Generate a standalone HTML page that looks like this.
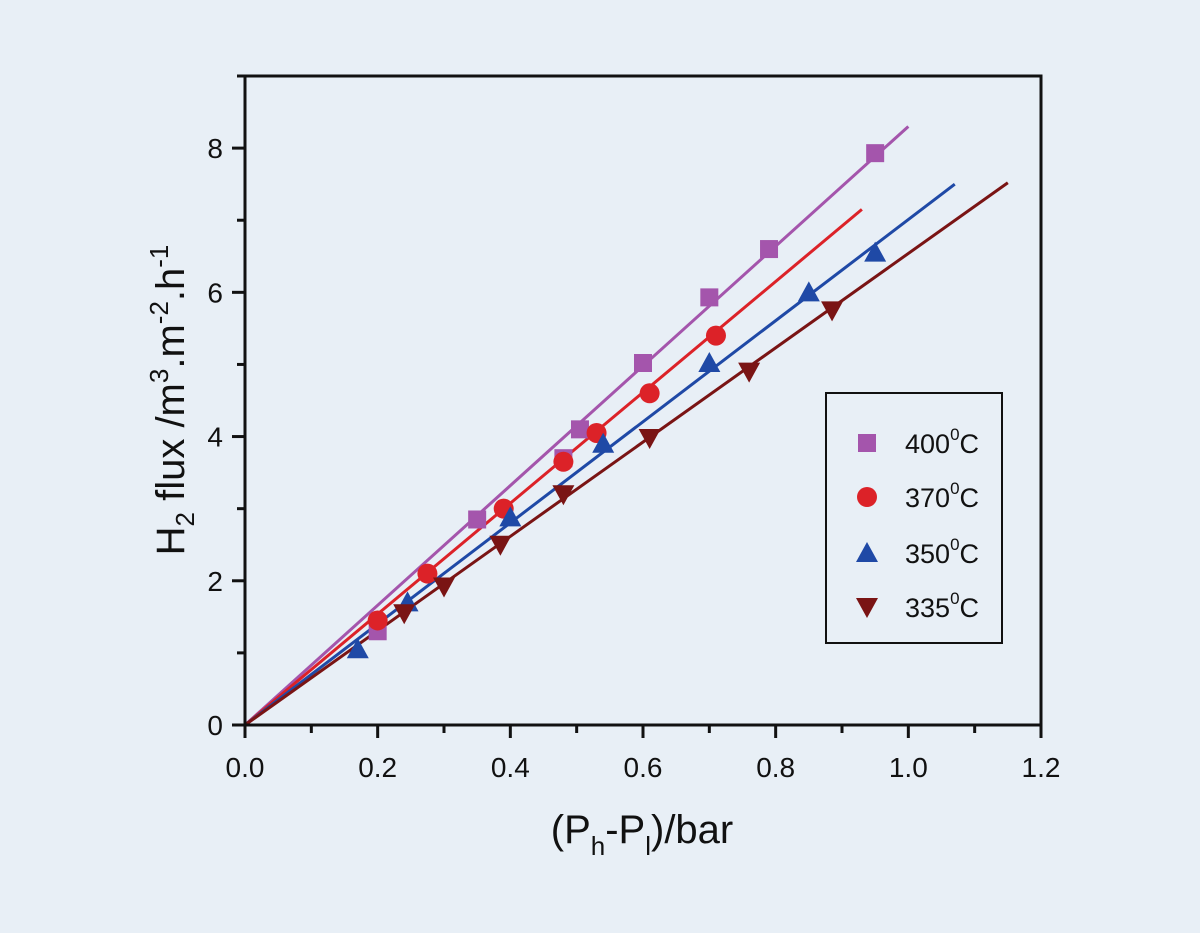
<!DOCTYPE html>
<html><head><meta charset="utf-8"><style>
html,body{margin:0;padding:0;background:#e8eff6;}
svg{display:block;font-family:"Liberation Sans",sans-serif;}
</style></head><body>
<svg id="chart" width="1200" height="933" viewBox="0 0 1200 933">
<rect width="1200" height="933" fill="#e8eff6"/>
<g id="plot"></g>
<text x="0" y="0" transform="translate(184,400) rotate(-90)" text-anchor="middle" font-size="40" fill="#111">H<tspan font-size="26" dy="10">2</tspan><tspan dy="-10"> flux /m</tspan><tspan font-size="26" dy="-16">3</tspan><tspan dy="16">.m</tspan><tspan font-size="26" dy="-16">-2</tspan><tspan dy="16">.h</tspan><tspan font-size="26" dy="-16">-1</tspan></text>
<text x="642" y="843" text-anchor="middle" font-size="40" fill="#111">(P<tspan font-size="26" dy="12">h</tspan><tspan dy="-12">-P</tspan><tspan font-size="26" dy="12">l</tspan><tspan dy="-12">)/bar</tspan></text>
</svg>
<script>
const xTicks=[0,0.2,0.4,0.6,0.8,1.0,1.2];
const xTickLabels=["0.0","0.2","0.4","0.6","0.8","1.0","1.2"];
const yTicks=[0,2,4,6,8];
const yTickLabels=["0","2","4","6","8"];
const seriesNames=["400°C","370°C","350°C","335°C"];
const x400=[0.2,0.35,0.48,0.505,0.6,0.7,0.79,0.95];
const y400=[1.3,2.85,3.7,4.1,5.02,5.93,6.6,7.93];
const x370=[0.2,0.275,0.39,0.48,0.53,0.61,0.71];
const y370=[1.45,2.1,3.0,3.65,4.05,4.6,5.4];
const x350=[0.17,0.245,0.40,0.54,0.70,0.85,0.95];
const y350=[1.05,1.7,2.88,3.9,5.02,6.0,6.55];
const x335=[0.24,0.30,0.385,0.48,0.61,0.76,0.885];
const y335=[1.55,1.92,2.5,3.2,3.98,4.9,5.75];
const fitEndX=[1.0,0.93,1.07,1.15];
const fitEndY=[8.3,7.15,7.5,7.52];

const NS="http://www.w3.org/2000/svg";
const L=245,R=1041,T=76,B=725,XMAX=1.2,YMAX=9;
const sx=v=>L+v/XMAX*(R-L);
const sy=v=>B-v/YMAX*(B-T);
const g=document.getElementById('plot');
function mk(tag,attrs,parent){const e=document.createElementNS(NS,tag);for(const k in attrs)e.setAttribute(k,attrs[k]);(parent||g).appendChild(e);return e;}

const colors=["#a455ac","#dc2228","#1f49a6","#7a1414"];
const shapes=["square","circle","up","down"];
const xs=[x400,x370,x350,x335], ys=[y400,y370,y350,y335];

function marker(shape,cx,cy,color,parent){
  let e;
  if(shape==="square") e=mk('rect',{x:cx-9,y:cy-9,width:18,height:18,fill:color},parent);
  else if(shape==="circle") e=mk('circle',{cx:cx,cy:cy,r:10,fill:color},parent);
  else if(shape==="up") e=mk('polygon',{points:`${cx},${cy-11} ${cx-11},${cy+9} ${cx+11},${cy+9}`,fill:color},parent);
  else e=mk('polygon',{points:`${cx},${cy+11} ${cx-11},${cy-9} ${cx+11},${cy-9}`,fill:color},parent);
  return e;
}

// fit lines
for(let s=0;s<4;s++){
  const ln=mk('line',{x1:sx(0),y1:sy(0),x2:sx(fitEndX[s]),y2:sy(fitEndY[s]),stroke:colors[s],'stroke-width':3});
  
  
}
// points
for(let s=0;s<4;s++){
  for(let i=0;i<xs[s].length;i++){
    const m=marker(shapes[s],sx(xs[s][i]),sy(ys[s][i]),colors[s]);
    
    
  }
}
// frame
const fr=mk('rect',{x:L,y:T,width:R-L,height:B-T,fill:'none',stroke:'#111','stroke-width':3});


// x ticks
for(let i=0;i<xTicks.length;i++){
  const t=mk('line',{x1:sx(xTicks[i]),y1:B,x2:sx(xTicks[i]),y2:B+13,stroke:'#111','stroke-width':3});
  
  
  const lb=mk('text',{x:sx(xTicks[i]),y:B+52,'text-anchor':'middle','font-size':28,fill:'#111'});
  lb.textContent=xTickLabels[i];
  
  
  if(i<xTicks.length-1){
    const mx=(xTicks[i]+xTicks[i+1])/2;
    const mt=mk('line',{x1:sx(mx),y1:B,x2:sx(mx),y2:B+8,stroke:'#111','stroke-width':3});
    
    
  }
}
// y ticks
for(let i=0;i<yTicks.length;i++){
  const t=mk('line',{x1:L-13,y1:sy(yTicks[i]),x2:L,y2:sy(yTicks[i]),stroke:'#111','stroke-width':3});
  
  
  const lb=mk('text',{x:L-22,y:sy(yTicks[i])+10,'text-anchor':'end','font-size':28,fill:'#111'});
  lb.textContent=yTickLabels[i];
  
  
  const my=yTicks[i]+1;
  const mt=mk('line',{x1:L-8,y1:sy(my),x2:L,y2:sy(my),stroke:'#111','stroke-width':3});
  
  
}
// legend
const lg=mk('g',{});


const lbx=mk('rect',{x:826,y:393,width:176,height:250,fill:'none',stroke:'#111','stroke-width':2},lg);


const legY=[443,497,553,607];
for(let s=0;s<4;s++){
  const m=marker(shapes[s],867,legY[s],colors[s],lg);
  
  
  const t=mk('text',{x:905,y:legY[s]+10,'font-size':27,fill:'#111'},lg);
  t.innerHTML=seriesNames[s].slice(0,3)+'<tspan font-size="17" dy="-13">0</tspan><tspan dy="13">C</tspan>';
  
  
}
</script>
</body></html>
